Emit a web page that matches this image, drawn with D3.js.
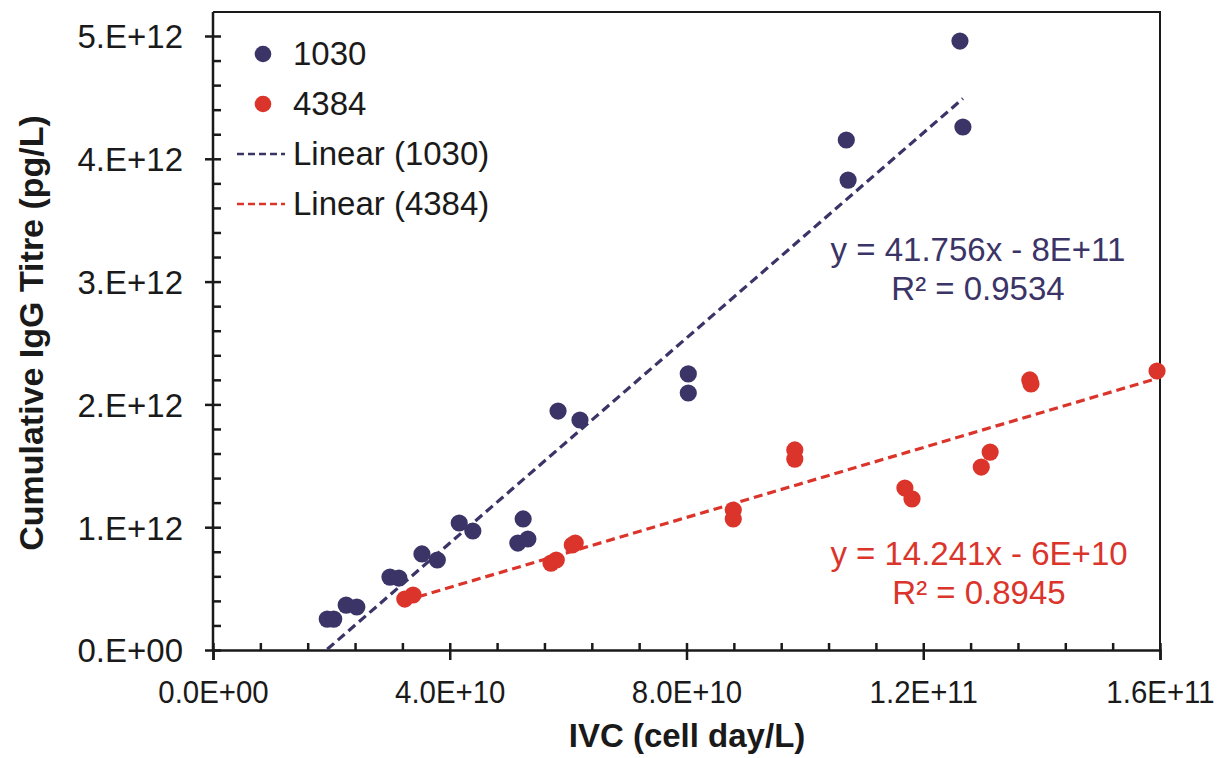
<!DOCTYPE html>
<html>
<head>
<meta charset="utf-8">
<script src="https://cdn.jsdelivr.net/npm/d3@7"></script>
<style>
  body { margin: 0; background: #fff; }
  svg { font-family: "Liberation Sans", Arial, sans-serif; }
</style>
</head>
<body>
<div id="chart"></div>
<script>
var width = 1230, height = 758;

// series 1030 : IVC (cell day/L) vs cumulative IgG titre (pg/L)
var ivc1030 = [1.93e10, 2.04e10, 2.25e10, 2.43e10, 2.99e10, 3.14e10, 3.53e10, 3.79e10,
               4.16e10, 4.39e10, 5.15e10, 5.24e10, 5.32e10, 5.83e10, 6.20e10, 8.03e10,
               8.03e10, 1.070e11, 1.073e11, 1.262e11, 1.267e11];
var igg1030 = [0.252e12, 0.252e12, 0.366e12, 0.350e12, 0.594e12, 0.586e12, 0.782e12, 0.733e12,
               1.034e12, 0.969e12, 0.871e12, 1.067e12, 0.904e12, 1.946e12, 1.873e12, 2.248e12,
               2.093e12, 4.153e12, 3.827e12, 4.959e12, 4.259e12];

// series 4384
var ivc4384 = [3.24e10, 3.38e10, 5.71e10, 5.80e10, 6.07e10, 6.12e10, 8.79e10, 8.79e10,
               9.83e10, 9.83e10, 1.169e11, 1.181e11, 1.298e11, 1.313e11, 1.380e11, 1.382e11,
               1.595e11];
var igg4384 = [0.415e12, 0.448e12, 0.708e12, 0.733e12, 0.855e12, 0.871e12, 1.140e12, 1.067e12,
               1.629e12, 1.555e12, 1.319e12, 1.230e12, 1.490e12, 1.612e12, 2.199e12, 2.166e12,
               2.272e12];

// trendline coefficients (as printed on the chart)
var slopes     = [41.756, 14.241];
var intercepts = [-8e11, -6e10];
var eqLabels   = [["y = 41.756x - 8E+11", "R\u00b2 = 0.9534"],
                  ["y = 14.241x - 6E+10", "R\u00b2 = 0.8945"]];

var seriesNames = ["1030", "4384"];
var xTicks = [0, 4e10, 8e10, 1.2e11, 1.6e11];
var xTickLabels = ["0.0E+00", "4.0E+10", "8.0E+10", "1.2E+11", "1.6E+11"];
var yTicks = [0, 1e12, 2e12, 3e12, 4e12, 5e12];
var yTickLabels = ["0.E+00", "1.E+12", "2.E+12", "3.E+12", "4.E+12", "5.E+12"];

var colors = ["#3b3467", "#db342b"];

var plot = { left: 213, right: 1160, top: 12, bottom: 650 };

var x = d3.scaleLinear().domain([0, 1.6e11]).range([plot.left, plot.right]);
var y = d3.scaleLinear().domain([0, 5e12]).range([plot.bottom, 36]);

var svg = d3.select("#chart").append("svg")
    .attr("width", width)
    .attr("height", height);

// frame (top and right)
svg.append("path")
    .attr("d", "M" + plot.left + "," + plot.top + "H" + plot.right + "V" + plot.bottom)
    .attr("fill", "none")
    .attr("stroke", "#1a1a1a")
    .attr("stroke-width", 2);

// minor ticks (inside)
var xMinor = d3.axisBottom(x).tickValues(d3.range(0, 1.6e11 + 1, 8e9)).tickSize(-7).tickFormat("");
var yMinor = d3.axisLeft(y).tickValues(d3.range(0, 5e12 + 1, 2e11)).tickSize(-8).tickFormat("");

svg.append("g")
    .attr("class", "x minor")
    .attr("transform", "translate(0," + plot.bottom + ")")
    .call(xMinor);

svg.append("g")
    .attr("class", "y minor")
    .attr("transform", "translate(" + plot.left + ",0)")
    .call(yMinor);

// major ticks with labels
var xAxis = d3.axisBottom(x).tickValues(xTicks).tickSize(10)
    .tickFormat(function(d, i) { return xTickLabels[i]; });
var yAxis = d3.axisLeft(y).tickValues(yTicks).tickSize(8)
    .tickFormat(function(d, i) { return yTickLabels[i]; });

var gx = svg.append("g")
    .attr("class", "x axis")
    .attr("transform", "translate(0," + plot.bottom + ")")
    .call(xAxis);

gx.selectAll("text")
    .attr("y", 53)
    .attr("dy", 0)
    .attr("transform", "scale(0.92,1)")
    .style("font-size", "32px")
    .attr("fill", "#1a1a1a");

var gy = svg.append("g")
    .attr("class", "y axis")
    .attr("transform", "translate(" + plot.left + ",0)")
    .call(yAxis);

gy.selectAll("text")
    .attr("x", -30)
    .attr("dy", "0.36em")
    .style("font-size", "33px")
    .attr("fill", "#1a1a1a");

// y axis line runs up to the frame
gy.select(".domain").attr("d", "M0," + plot.bottom + "V" + plot.top);
svg.selectAll(".domain").attr("stroke", "#1a1a1a").attr("stroke-width", 2.5);
svg.selectAll(".tick line").attr("stroke", "#1a1a1a").attr("stroke-width", 2.5);
svg.selectAll(".minor .domain").remove();

// axis titles
svg.append("text")
    .attr("x", 687)
    .attr("y", 747)
    .attr("text-anchor", "middle")
    .style("font-size", "33px")
    .style("font-weight", "bold")
    .attr("fill", "#1a1a1a")
    .text("IVC (cell day/L)");

svg.append("text")
    .attr("transform", "translate(43,333) rotate(-90)")
    .attr("text-anchor", "middle")
    .style("font-size", "34px")
    .style("font-weight", "bold")
    .attr("fill", "#1a1a1a")
    .text("Cumulative IgG Titre (pg/L)");

// points
var series = [
    { xs: ivc1030, ys: igg1030 },
    { xs: ivc4384, ys: igg4384 }
];

series.forEach(function(s, k) {
    var pts = s.xs.map(function(v, i) { return { x: v, y: s.ys[i] }; });
    svg.append("g").selectAll("circle")
        .data(pts)
        .enter().append("circle")
        .attr("cx", function(d) { return x(d.x); })
        .attr("cy", function(d) { return y(d.y); })
        .attr("r", 8.6)
        .attr("fill", colors[k]);
});

// linear trendlines over the data range
var line = d3.line()
    .x(function(d) { return x(d[0]); })
    .y(function(d) { return y(d[1]); });

series.forEach(function(s, k) {
    var ext = d3.extent(s.xs);
    var pts = ext.map(function(v) { return [v, slopes[k] * v + intercepts[k]]; });
    svg.append("path")
        .attr("d", line(pts))
        .attr("fill", "none")
        .attr("stroke", colors[k])
        .attr("stroke-width", 3.2)
        .attr("stroke-dasharray", "9,5");
});

// equations
var eqPos = [{ x: 978, y: 261 }, { x: 979, y: 565 }];
eqLabels.forEach(function(lbl, k) {
    lbl.forEach(function(t, j) {
        svg.append("text")
            .attr("x", eqPos[k].x)
            .attr("y", eqPos[k].y + j * 39)
            .attr("text-anchor", "middle")
            .style("font-size", "33px")
            .attr("fill", colors[k])
            .text(t);
    });
});

// legend
var legend = svg.append("g").attr("class", "legend");
seriesNames.forEach(function(name, k) {
    legend.append("circle")
        .attr("cx", 263)
        .attr("cy", 54 + k * 50)
        .attr("r", 8.3)
        .attr("fill", colors[k]);
    legend.append("text")
        .attr("x", 293)
        .attr("y", 65 + k * 50)
        .style("font-size", "33px")
        .attr("fill", "#1a1a1a")
        .text(name);
    legend.append("line")
        .attr("x1", 237).attr("x2", 285)
        .attr("y1", 154 + k * 50).attr("y2", 154 + k * 50)
        .attr("stroke", colors[k])
        .attr("stroke-width", 2.6)
        .attr("stroke-dasharray", "7,4");
    legend.append("text")
        .attr("x", 293)
        .attr("y", 165 + k * 50)
        .style("font-size", "33px")
        .attr("fill", "#1a1a1a")
        .text("Linear (" + name + ")");
});
</script>
</body>
</html>
